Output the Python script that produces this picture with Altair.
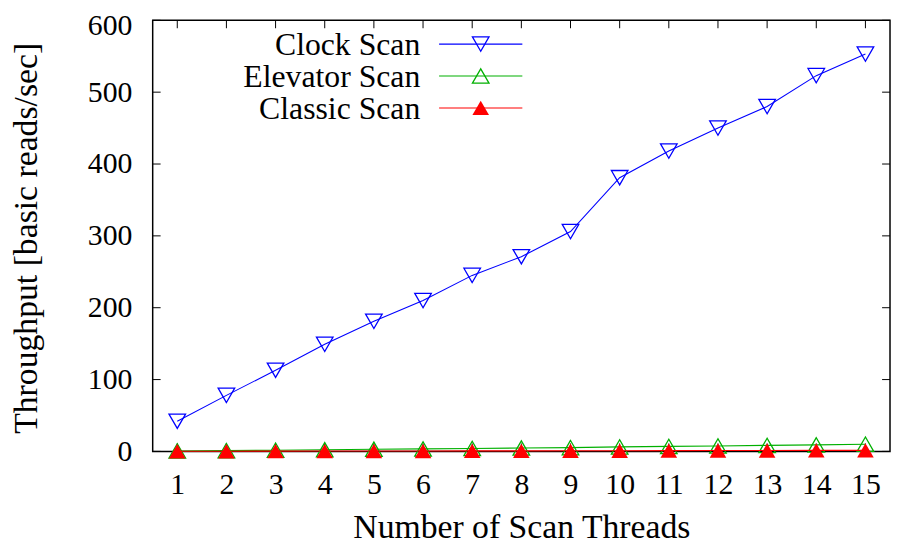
import altair as alt
import pandas as pd

threads = list(range(1, 16))
clock_scan = [42, 78, 113, 149, 181, 210, 245, 271, 306, 381, 418, 450, 480, 523, 553]
elevator_scan = [0.6, 1.1, 1.7, 2.3, 3.0, 3.5, 4.1, 4.7, 5.3, 6.3, 7.0, 7.6, 8.4, 9.1, 10.0]
classic_scan = [0.2, 0.3, 0.4, 0.5, 0.6, 0.6, 0.7, 0.8, 0.9, 1.0, 1.1, 1.2, 1.3, 1.4, 1.5]

series_names = ["Clock Scan", "Elevator Scan", "Classic Scan"]
series_values = [clock_scan, elevator_scan, classic_scan]
series_colors = ["#0000ff", "#00b000", "#ff0000"]
series_shapes = ["triangle-down", "triangle-up", "triangle-up"]
series_filled = [False, False, True]

x_ticks = list(range(1, 16))
y_ticks = [0, 100, 200, 300, 400, 500, 600]

FONT = "Liberation Serif"
W, H = 744, 435

xscale = alt.Scale(domain=[0.5, 15.5], nice=False, zero=False)
yscale = alt.Scale(domain=[0, 600], nice=False)

layers = []

# axis carrier (labels + titles)
axis_df = pd.DataFrame({"x": [1], "y": [0]})
base_axes = alt.Chart(axis_df).mark_point(opacity=0).encode(
    x=alt.X("x:Q", scale=xscale,
            axis=alt.Axis(values=x_ticks, title="Number of Scan Threads", format="d",
                          labelPadding=18, titleX=W / 2, titleY=87, titleLimit=1000,
                          titleBaseline="alphabetic", titleAlign="center")),
    y=alt.Y("y:Q", scale=yscale,
            axis=alt.Axis(values=y_ticks, title="Throughput [basic reads/sec]", format="d",
                          labelPadding=21, titleX=-127, titleY=H / 2 + 2, titleAngle=270,
                          titleBaseline="middle", titleAlign="center", titleLimit=1000,
                          labelOffset={"condition": {"test": "datum.value == 600", "value": 5},
                                       "value": 0})),
)
layers.append(base_axes)

# inward tick marks on all four sides
xt = pd.DataFrame({"t": x_ticks})
yt = pd.DataFrame({"t": y_ticks})
tick_len = 8
layers.append(alt.Chart(xt).mark_rule(color="black", strokeWidth=1).encode(
    x="t:Q", y=alt.value(H), y2=alt.value(H - tick_len)))
layers.append(alt.Chart(xt).mark_rule(color="black", strokeWidth=1).encode(
    x="t:Q", y=alt.value(0), y2=alt.value(tick_len)))
layers.append(alt.Chart(yt).mark_rule(color="black", strokeWidth=1).encode(
    y="t:Q", x=alt.value(0), x2=alt.value(tick_len)))
layers.append(alt.Chart(yt).mark_rule(color="black", strokeWidth=1).encode(
    y="t:Q", x=alt.value(W), x2=alt.value(W - tick_len)))

for name, vals, col, shp, fil in zip(series_names, series_values, series_colors,
                                      series_shapes, series_filled):
    df = pd.DataFrame({"threads": threads, "value": vals, "series": name})
    layers.append(alt.Chart(df).mark_line(color=col, strokeWidth=1.1).encode(
        x=alt.X("threads:Q", scale=xscale), y=alt.Y("value:Q", scale=yscale)))
    layers.append(alt.Chart(df).mark_point(shape=shp, filled=fil, size=280, color=col,
                                           strokeWidth=1.3, opacity=1).encode(
        x=alt.X("threads:Q", scale=xscale), y=alt.Y("value:Q", scale=yscale)))

# legend (inside the plot, upper left)
for i, (name, col, shp, fil) in enumerate(zip(series_names, series_colors,
                                              series_shapes, series_filled)):
    ly = 24 + 32.2 * i
    ldf = pd.DataFrame({"label": [name]})
    layers.append(alt.Chart(ldf).mark_text(font=FONT, fontSize=32, align="right",
                                           baseline="alphabetic", color="black").encode(
        text="label:N", x=alt.value(270), y=alt.value(ly + 11)))
    layers.append(alt.Chart(ldf).mark_rule(color=col, strokeWidth=1.1).encode(
        x=alt.value(289), x2=alt.value(373), y=alt.value(ly)))
    layers.append(alt.Chart(ldf).mark_point(shape=shp, filled=fil, size=280, color=col,
                                            strokeWidth=1.3, opacity=1).encode(
        x=alt.value(331), y=alt.value(ly)))

chart = alt.layer(*layers).properties(
    width=W, height=H,
    autosize=alt.AutoSizeParams(type="none"),
    padding={"left": 146, "top": 10, "right": 1, "bottom": 92},
    background="white",
).configure_view(stroke="black", strokeWidth=1.5).configure_axis(
    labelFont=FONT, labelFontSize=30, labelColor="black",
    titleFont=FONT, titleFontSize=34, titleColor="black", titleFontWeight="normal",
    ticks=False, domain=False, grid=False,
)

chart.save("out.html", embed_options={"renderer": "svg", "actions": False})
